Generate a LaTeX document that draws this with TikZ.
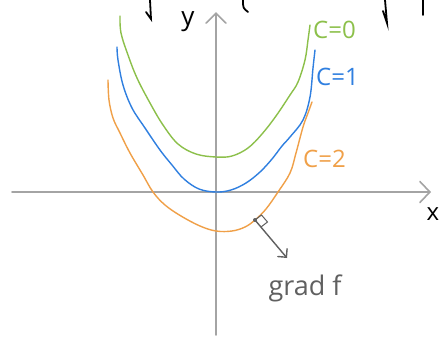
\documentclass[tikz,border=0pt]{standalone}
\usepackage{fontspec}
\setmainfont{Open Sans}
\usetikzlibrary{arrows.meta}
\definecolor{cgreen}{HTML}{8CC04A}
\definecolor{cblue}{HTML}{2F7FE0}
\definecolor{corange}{HTML}{F0A048}
\definecolor{caxis}{HTML}{A4A4A4}
\definecolor{cgrad}{HTML}{606060}
\tikzset{
  axisline/.style={caxis, line width=1.6pt, line cap=round},
  level/.style={line width=1.4pt, line cap=round, line join=round},
  lbl/.style={inner sep=0pt, font=\fontsize{24}{24}\selectfont},
  ink/.style={black, line width=1.8pt, line cap=round},
}
\begin{document}
\begin{tikzpicture}[x=1pt,y=-1pt]
\useasboundingbox[fill=white] (0,0) rectangle (440,338);
% axes
\coordinate (xs) at (12,192);
\coordinate (xe) at (431,192);
\coordinate (ys) at (216,335);
\coordinate (ye) at (216,12);
\draw[axisline, -{Straight Barb[length=10pt,width=21pt,line cap=round]}] (xs) -- (xe);
\draw[axisline, -{Straight Barb[length=10pt,width=20pt,line cap=round]}] (ys) -- (ye);
\node[lbl, black, anchor=east] (xl) at (439.5,214) {x};
\node[lbl, black, font=\fontsize{26}{26}\selectfont] (yl) at (188,22) {y};
% level curves
\draw[level, cgreen] plot[smooth, tension=0.6] coordinates {
  (120,16) (121,33) (128,55) (137,78) (150,103) (163,125) (178,144) (196,154)
  (216,157) (232,156) (248,148) (262,134) (276,116) (290,95) (298,82) (305,60) (308,40) (310,25)};
\draw[level, cblue] plot[smooth, tension=0.6] coordinates {
  (117,47) (118,60) (123,85) (132,108) (145,128) (160,150) (172,165) (184,179) (199,189)
  (216,192) (231,190) (246,183) (260,172) (272,159) (282,146) (290,137) (303,120) (310,97) (313,68) (315,50)};
\draw[level, corange] plot[smooth, tension=0.6] coordinates {
  (108,80) (109,100) (113,118) (120,133) (130,153) (143,175) (153,192) (165,205) (181,216) (200,226)
  (216,231) (232,231) (245,227) (255,220) (266,209) (278,192) (290,173) (296,153) (303,127) (308,113) (312,102)};
\node[lbl, cgreen, anchor=west] (c0) at (313,30) {C=0};
\node[lbl, cblue, anchor=west] (c1) at (316,77) {C=1};
\node[lbl, corange, anchor=west] (c2) at (303,159) {C=2};
% gradient
\coordinate (p) at (255,220);
\coordinate (tip) at (287,258);
\draw[cgrad, line width=1pt] (p) -- ++(6.5,-5) -- ++(6,7) -- ++(-6.5,5);
\draw[cgrad, line width=1.4pt, line cap=round, -{Straight Barb[length=6pt,width=12pt,line cap=round]}] (p) -- (tip);
\fill[cgrad] (p) circle (2pt);
\node[lbl, cgrad, font=\fontsize{27}{27}\selectfont] (gl) at (305,288) {grad f};
% cut-off ink fragments at the top
\draw[ink] (150,0) -- (151,19) -- (146,12);
\draw[ink] (243,0) .. controls (243,8) .. (248,12);
\draw[ink] (385,0) -- (387,23) -- (383,11);
\draw[ink] (423,0) -- (423,15);
\end{tikzpicture}
\end{document}
